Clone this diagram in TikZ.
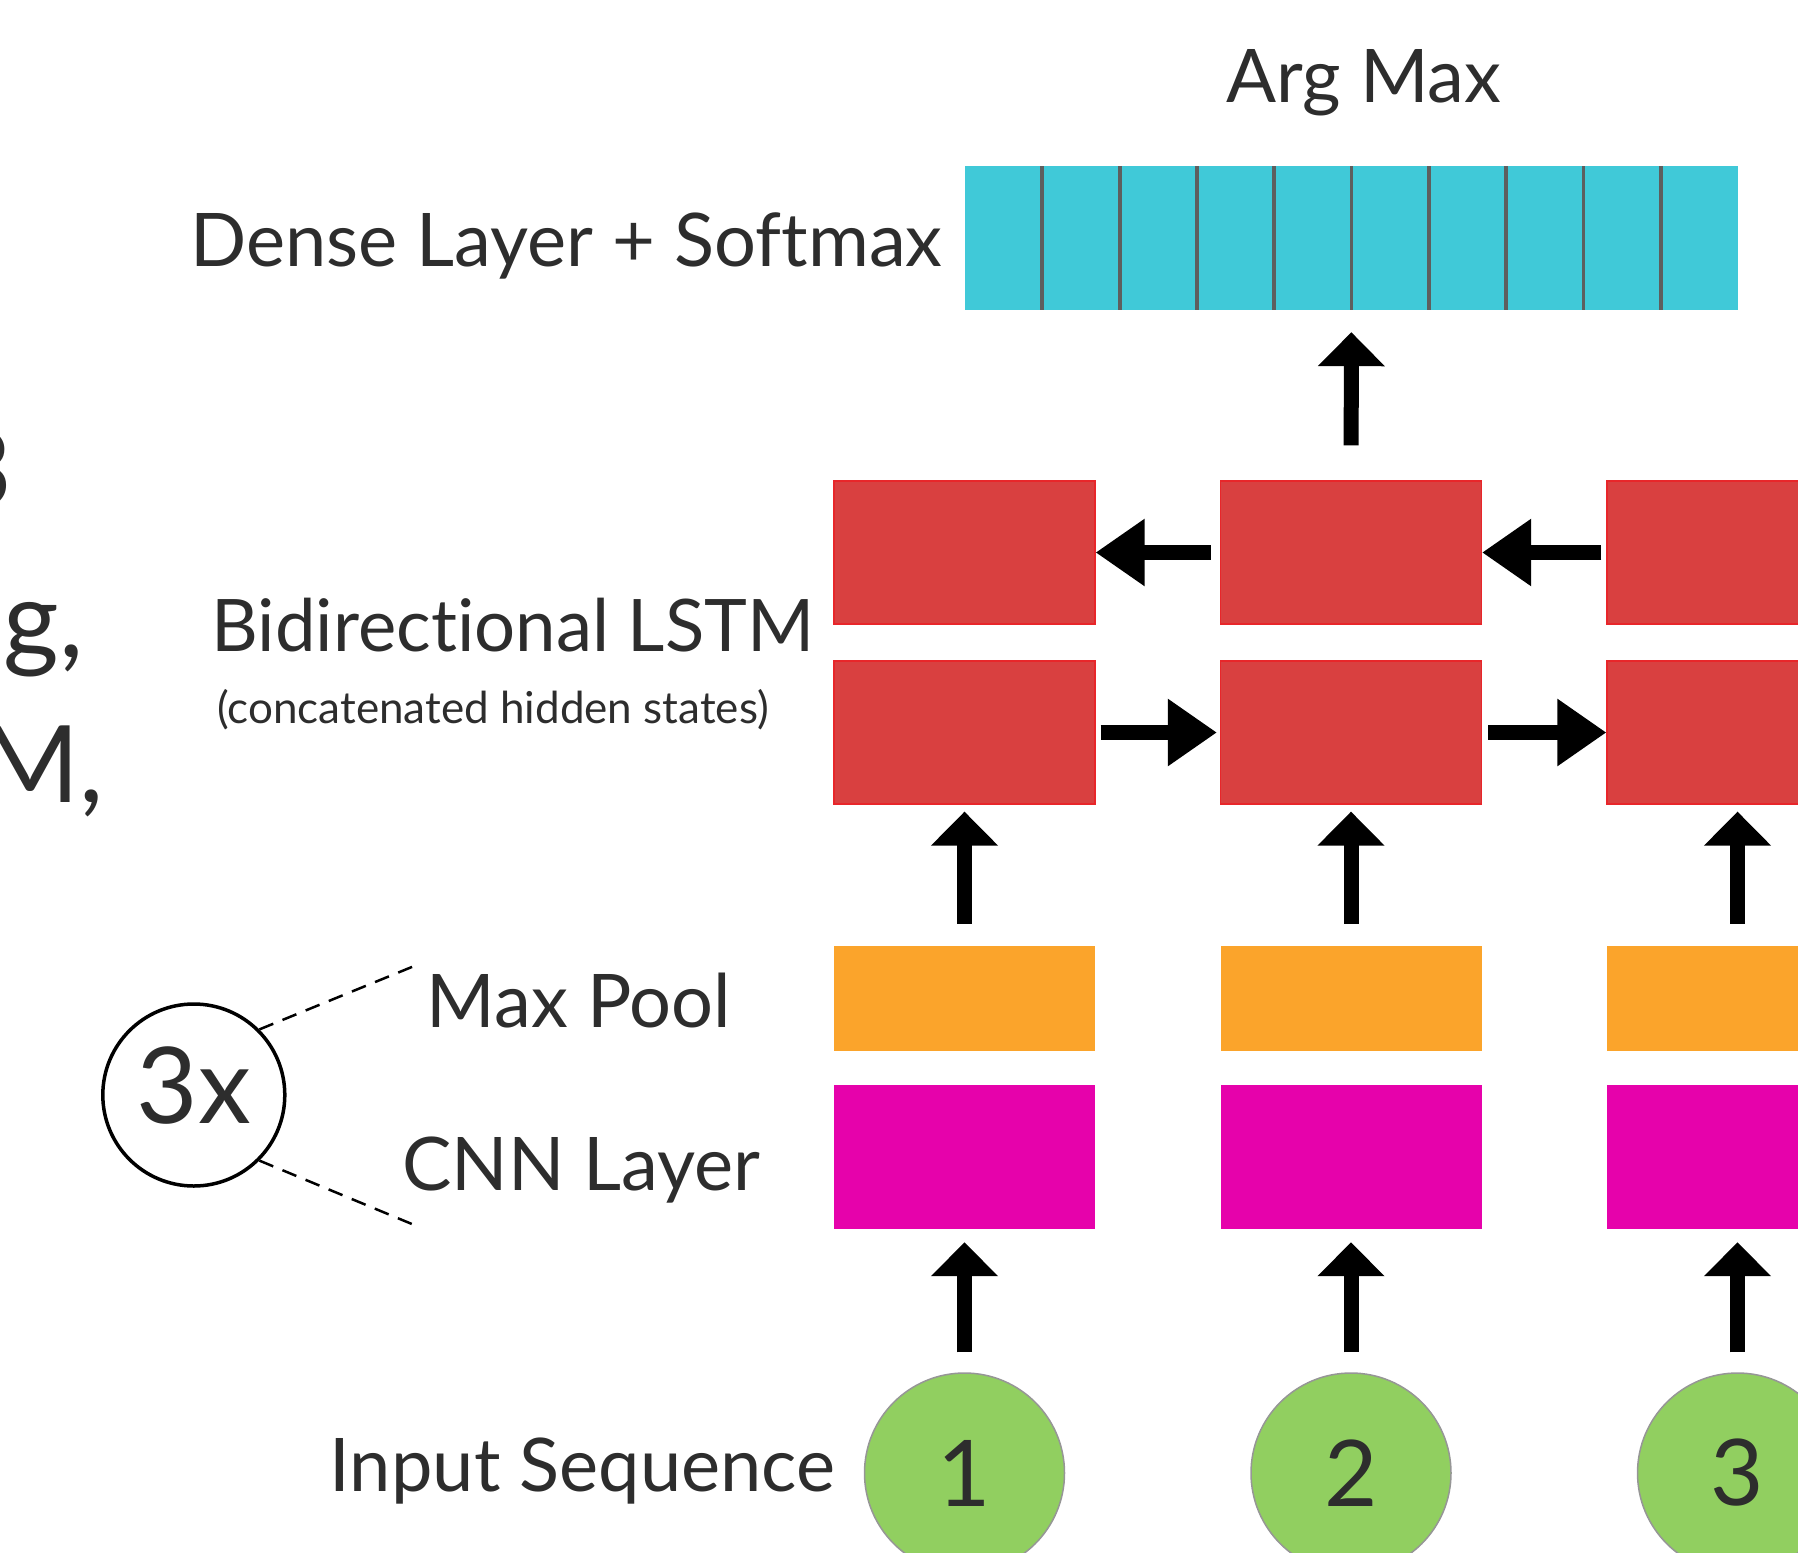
\documentclass[tikz,border=0pt]{standalone}
\usepackage{fontspec}
\setmainfont{Lato}[Ligatures=NoCommon]
\usetikzlibrary{arrows.meta}

\definecolor{inktext}{RGB}{45,45,45}
\definecolor{densecyan}{RGB}{64,201,216}
\definecolor{cellgray}{RGB}{94,94,94}
\definecolor{lstmred}{RGB}{217,64,64}
\definecolor{lstmedge}{RGB}{232,38,42}
\definecolor{poolorange}{RGB}{251,164,43}
\definecolor{cnnmagenta}{RGB}{230,2,171}
\definecolor{inputgreen}{RGB}{145,207,96}
\definecolor{inputedge}{RGB}{150,150,150}

\begin{document}
\begin{tikzpicture}[x=1pt, y=-1pt]
        % Define styles for the boxes, arrows and labels
        \tikzset{
            layer label/.style={inner sep=0pt, anchor=base, text=inktext, font=\fontsize{74}{88}\selectfont},
            lstm box/.style={rectangle, inner sep=0pt, minimum width=261pt, minimum height=143pt, fill=lstmred, draw=lstmedge, line width=1.2pt},
            pool box/.style={rectangle, inner sep=0pt, minimum width=261pt, minimum height=105pt, fill=poolorange},
            cnn box/.style={rectangle, inner sep=0pt, minimum width=261pt, minimum height=144pt, fill=cnnmagenta},
            input dot/.style={circle, inner sep=0pt, minimum size=200pt, fill=inputgreen, draw=inputedge, line width=1.5pt, text=inktext, font=\fontsize{92}{100}\selectfont},
            up arrow/.style={-{Triangle[length=34pt, width=65pt]}, line width=15pt, black},
            side arrow/.style={-{Triangle[length=49pt, width=64pt]}, line width=15pt, black},
            repeat line/.style={dash pattern=on 15pt off 10pt, line width=2.5pt, black}
        }

        \useasboundingbox (0,0) rectangle (1798,1552);

        % Text cut off at the left edge
        \node[layer label, anchor=base east, font=\fontsize{107}{120}\selectfont] (edge3) at (13,507) {3};
        \node[layer label, anchor=base east, font=\fontsize{107}{120}\selectfont] (edgeg) at (84,657) {g,};
        \node[layer label, anchor=base east, font=\fontsize{107}{120}\selectfont] (edgem) at (104,802) {M,};

        % Dense layer with its ten cells
        \node[rectangle, inner sep=0pt, minimum width=773pt, minimum height=144pt, fill=densecyan] (dense) at (1351.5,238) {};
        \foreach \k in {1,...,9} {
            \draw[cellgray, line width=3.8pt] (965+\k*77.3,166) -- (965+\k*77.3,310);
        }

        % One column per input step
        \foreach \x [count=\i] in {964.5,1351,1737.5} {
            \node[lstm box] (bw\i) at (\x,552.5) {};
            \node[lstm box] (fw\i) at (\x,732.5) {};
            \node[pool box] (pool\i) at (\x,998.5) {};
            \node[cnn box] (cnn\i) at (\x,1157) {};
            \node[input dot] (in\i) at (\x,1473) {\i};
            \draw[up arrow, shorten <=20pt, shorten >=13pt] (in\i) -- (cnn\i);
            \draw[up arrow, shorten <=22pt, shorten >=7pt] (pool\i) -- (fw\i);
        }

        % Backward and forward LSTM arrows
        \draw[side arrow, shorten <=9pt] (bw2) -- (bw1);
        \draw[side arrow, shorten <=5pt] (bw3) -- (bw2);
        \draw[side arrow, shorten <=5pt, shorten >=3pt] (fw1) -- (fw2);
        \draw[side arrow, shorten <=6pt] (fw2) -- (fw3);
        \draw[up arrow, shorten <=35pt, shorten >=22pt] (bw2) -- (dense);

        % The 3x repeat marker
        \node[circle, draw=black, line width=3.5pt, minimum size=182pt, inner sep=0pt, text=inktext, font=\fontsize{106}{120}\selectfont, text depth=19pt] (three) at (193.8,1095) {3x};
        \coordinate (pooltip) at (416.7,965);
        \coordinate (cnntip) at (416.7,1226);
        \draw[repeat line] (three.45) -- (pooltip);
        \draw[repeat line] (three.-45) -- (cnntip);

        % Layer labels
        \node[layer label] (argmax) at (1364,102.7) {Arg Max};
        \node[layer label] (densetxt) at (566.5,266) {Dense Layer + Softmax};
        \node[layer label, font=\fontsize{72.5}{86}\selectfont] (lstmtxt) at (513,651.7) {Bidirectional LSTM};
        \node[layer label, font=\fontsize{44}{52}\selectfont] (hiddentxt) at (493,723) {(concatenated hidden states)};
        \node[layer label] (pooltxt) at (579,1027.3) {Max Pool};
        \node[layer label] (cnntxt) at (581.5,1190) {CNN Layer};
        \node[layer label] (inputtxt) at (582.5,1491.7) {Input Sequence};

    \end{tikzpicture}
\end{document}
